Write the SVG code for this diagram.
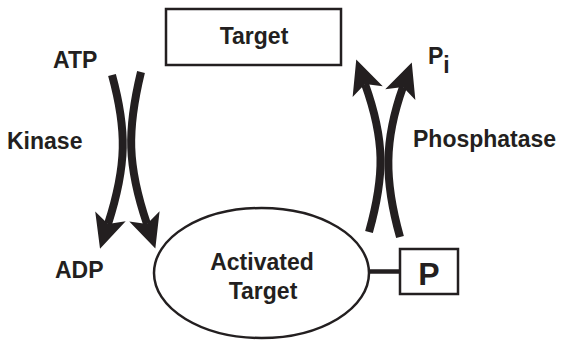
<svg xmlns="http://www.w3.org/2000/svg" width="561" height="340" viewBox="0 0 561 340">
  <style>
    .lbl { font-family: "Liberation Sans", Arial, Helvetica, sans-serif; font-weight: bold; font-size: 23px; fill: #231f20; }
    .box { fill: #fff; stroke: #231f20; stroke-width: 2.5; }
    .flow { fill: none; stroke: #231f20; stroke-width: 8; stroke-linecap: butt; }
  </style>
  <defs>
    <marker id="arr" markerUnits="userSpaceOnUse" markerWidth="40" markerHeight="40" viewBox="-2 -18 40 36" refX="8" refY="0" orient="auto" overflow="visible">
      <path d="M0,-16 L34,0 L0,16 L8,0 Z" fill="#231f20"/>
    </marker>
  </defs>
  <rect width="561" height="340" fill="#fff"/>

  <g id="connectors">
    <path class="flow" d="M112,75 C127,130 127,165 108,224" marker-end="url(#arr)"/>
    <path class="flow" d="M141,72 C127,130 127,165 147,224" marker-end="url(#arr)"/>
    <path class="flow" d="M369,232 C385,175 385,140 365,84" marker-end="url(#arr)"/>
    <path class="flow" d="M400,237 C384,180 384,140 403,87" marker-end="url(#arr)"/>
    <line x1="369" y1="271.5" x2="400" y2="271.5" stroke="#231f20" stroke-width="4.5"/>
  </g>

  <g id="target">
    <rect class="box" x="166" y="9" width="175" height="56"/>
    <text class="lbl" x="254" y="44" text-anchor="middle">Target</text>
  </g>

  <g id="activated-target">
    <ellipse class="box" cx="261.5" cy="273" rx="107.5" ry="65"/>
    <text class="lbl" x="262" y="270" text-anchor="middle">Activated</text>
    <text class="lbl" x="263" y="299" text-anchor="middle">Target</text>
  </g>

  <g id="phosphate">
    <rect class="box" x="400" y="249" width="58" height="45"/>
    <text class="lbl" x="429" y="285" text-anchor="middle" style="font-size:32px">P</text>
  </g>

  <g id="atp"><text class="lbl" x="53" y="68">ATP</text></g>
  <g id="adp"><text class="lbl" x="55" y="278">ADP</text></g>
  <g id="kinase"><text class="lbl" x="7" y="149">Kinase</text></g>
  <g id="phosphatase"><text class="lbl" x="413" y="147">Phosphatase</text></g>
  <g id="pi"><text class="lbl" x="428" y="64">P<tspan dy="9">i</tspan></text></g>
</svg>
